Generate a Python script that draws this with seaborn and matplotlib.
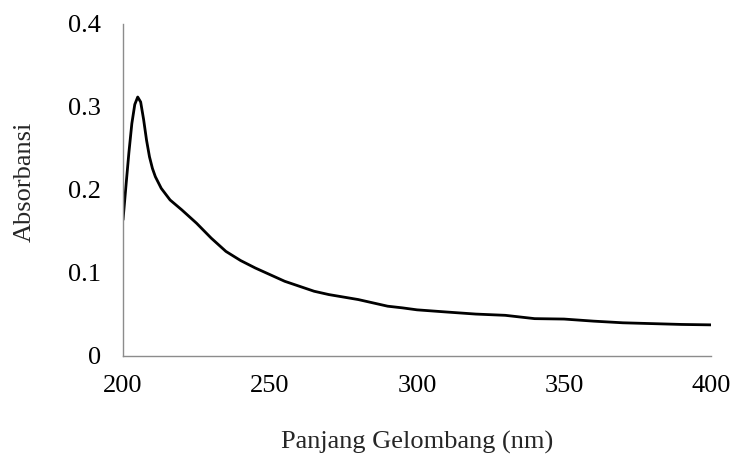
import pandas as pd
import matplotlib.pyplot as plt
import seaborn as sns

# spektrum serapan
panjang_gelombang = [200, 201, 202, 203, 204, 205, 206, 207, 208, 209, 210, 211, 213, 216,
                     220, 225, 230, 235, 240, 245, 250, 255, 260, 265, 270, 275, 280, 285,
                     290, 295, 300, 310, 320, 330, 340, 350, 360, 370, 380, 390, 400]
absorbansi = [0.164, 0.205, 0.245, 0.280, 0.303, 0.312, 0.306, 0.285, 0.260, 0.240, 0.226,
              0.216, 0.202, 0.188, 0.176, 0.160, 0.142, 0.126, 0.115, 0.106, 0.098, 0.090,
              0.084, 0.078, 0.074, 0.071, 0.068, 0.064, 0.060, 0.058, 0.0556, 0.053, 0.0505,
              0.049, 0.045, 0.0445, 0.042, 0.040, 0.039, 0.038, 0.0375]
x_ticks = [200, 250, 300, 350, 400]
y_ticks = [0, 0.1, 0.2, 0.3, 0.4]
y_labels = ['0', '0.1', '0.2', '0.3', '0.4']

df = pd.DataFrame({'nm': panjang_gelombang, 'abs': absorbansi})

sns.set_style('white')
plt.rcParams['font.family'] = ['Liberation Serif', 'DejaVu Serif']

fig = plt.figure(figsize=(7.34, 4.55), dpi=100)
ax = fig.add_axes([0.1676, 0.2176, 0.8011, 0.7297])

sns.lineplot(data=df, x='nm', y='abs', ax=ax, color='black', linewidth=2.0)

ax.set_xlim(200, 400)
ax.set_ylim(0, 0.4)
ax.set_xticks(x_ticks)
ax.set_yticks(y_ticks)
ax.set_yticklabels(y_labels)
ax.tick_params(axis='both', length=0, labelsize=19, colors='black')
ax.tick_params(axis='y', pad=16)
ax.tick_params(axis='x', pad=14)

ax.set_xlabel('Panjang Gelombang (nm)', fontsize=19)
ax.set_ylabel('Absorbansi', fontsize=19)
ax.xaxis.set_label_coords(0.5, -0.225)
ax.yaxis.set_label_coords(-0.148, 0.525)

for side in ['top', 'right']:
    ax.spines[side].set_visible(False)
for side in ['left', 'bottom']:
    ax.spines[side].set_color('#8c8c8c')
    ax.spines[side].set_linewidth(1.0)

plt.savefig('out.png', dpi=100)
plt.close()
